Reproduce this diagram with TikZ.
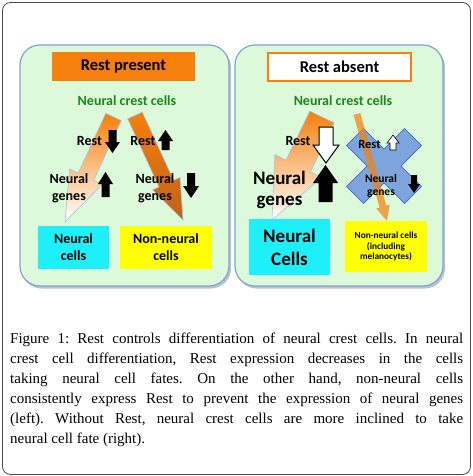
\documentclass[tikz,border=0pt]{standalone}
\usepackage{fontspec}
\setmainfont{Liberation Serif}
\newfontfamily\rotfont{Carlito}
\usepackage{xcolor}
\usepackage{tikz}
\usetikzlibrary{calc}
\usetikzlibrary{positioning}
\definecolor{laranja}{RGB}{247,127,12}
\definecolor{laranjaesc}{RGB}{192,98,22}
\definecolor{verdefundo}{RGB}{220,250,218}
\definecolor{bordapainel}{RGB}{128,163,214}
\definecolor{verdetexto}{RGB}{28,135,28}
\definecolor{ciano}{RGB}{30,240,250}
\definecolor{amarelo}{RGB}{255,255,0}
\definecolor{azulx}{RGB}{125,165,220}
\definecolor{bordax}{RGB}{45,85,215}
\definecolor{brilho}{RGB}{160,195,230}
\definecolor{sombra}{RGB}{185,195,205}
\tikzset{
  painel/.style={draw=bordapainel, line width=1.2pt, fill=verdefundo, rounded corners=20pt},
  sombrapainel/.style={fill=sombra, rounded corners=20pt},
  caixa/.style={inner sep=0pt, align=center, minimum width=#1, font=\rotfont\bfseries\fontsize{14}{17}\selectfont},
  caixa/.default=71pt,
  rotulo/.style={inner sep=0pt, align=center, font=\rotfont\bfseries\fontsize{14}{17}\selectfont},
  setagorda/.style={draw=brilho, line width=0.6pt},
  setapreta/.style={fill=black},
}
% block arrow: tail, tip, half shaft, half head, head length, style
\newcommand{\blocoseta}[6]{%
  \coordinate (bs-h) at ($(#2)!#5!(#1)$);
  \path[#6] ($(#1)!#3!90:(#2)$) -- ($(bs-h)!#3!90:(#2)$) -- ($(bs-h)!#4!90:(#2)$)
    -- (#2) -- ($(bs-h)!#4!-90:(#2)$) -- ($(bs-h)!#3!-90:(#2)$) -- ($(#1)!#3!-90:(#2)$) -- cycle;
}

\begin{document}
\begin{tikzpicture}[x=1pt, y=-1pt]
  \useasboundingbox (0,0) rectangle (473,476);
  \draw[gray!60!black, line width=0.8pt, rounded corners=8pt] (2.5,2.5) rectangle (470.5,474.5);

  % left panel: Rest present
  \fill[sombrapainel] (21.5,47) rectangle (231,288.5);
  \draw[painel] (20,45) rectangle (229,286);
  \node[caixa=143pt, fill=laranja, minimum height=29pt, font=\rotfont\bfseries\fontsize{16.5}{18}\selectfont] (tp) at (123.5,66.5) {Rest present};
  \node[rotulo, text=verdetexto] (ncp) at (127,101) {Neural crest cells};
  \coordinate (pa1) at (113.5,117);
  \coordinate (pb1) at (65,222);
  \coordinate (pa2) at (135,115.5);
  \coordinate (pb2) at (183,220);
  \blocoseta{pa1}{pb1}{8.5pt}{18pt}{50pt}{setagorda, top color=laranja, bottom color=white}
  \blocoseta{pa2}{pb2}{8pt}{15pt}{40pt}{setagorda, top color=laranja, bottom color=laranjaesc}
  \node[rotulo] (rp1) at (89.5,141) {Rest};
  \node[rotulo] (rp2) at (143,141) {Rest};
  \node[rotulo] (gp1) at (69,188) {Neural\\genes};
  \node[rotulo] (gp2) at (155,188) {Neural\\genes};
  \coordinate (sa1) at (112.5,130); \coordinate (sb1) at (112.5,153);
  \coordinate (sa2) at (165.5,150); \coordinate (sb2) at (165.5,130);
  \coordinate (sa3) at (105.5,197); \coordinate (sb3) at (105.5,172);
  \coordinate (sa4) at (191,173);   \coordinate (sb4) at (191,198);
  \blocoseta{sa1}{sb1}{4pt}{7.5pt}{11pt}{setapreta}
  \blocoseta{sa2}{sb2}{4pt}{7.5pt}{11pt}{setapreta}
  \blocoseta{sa3}{sb3}{4pt}{7.5pt}{12pt}{setapreta}
  \blocoseta{sa4}{sb4}{4pt}{8pt}{12pt}{setapreta}
  \node[caixa, fill=ciano, minimum height=43pt] (cp1) at (73.5,247.5) {Neural\\cells};
  \node[caixa=92pt, fill=amarelo, minimum height=43pt] (cp2) at (166,247.5) {Non-neural\\cells};

  % right panel: Rest absent
  \fill[sombrapainel] (236.5,47) rectangle (445,288.5);
  \draw[painel] (235,45) rectangle (443,286);
  \node[caixa=143pt, draw=laranja, line width=2pt, fill=white, minimum height=28pt, font=\rotfont\bfseries\fontsize{16.5}{18}\selectfont] (ta) at (339.5,67) {Rest absent};
  \node[rotulo, text=verdetexto] (nca) at (343,101) {Neural crest cells};
  \coordinate (qa1) at (322,117);
  \coordinate (qb1) at (272,220);
  \blocoseta{qa1}{qb1}{13.5pt}{26pt}{60pt}{setagorda, top color=laranja, bottom color=white}
  % blue cross
  \draw[bordax, line width=0.6pt, fill=azulx] (384,166) ++(0,-17) -- ++(20.5,-20.5) -- ++(17,17) -- ++(-20.5,20.5)
    -- ++(20.5,20.5) -- ++(-17,17) -- ++(-20.5,-20.5) -- ++(-20.5,20.5) -- ++(-17,-17) -- ++(20.5,-20.5)
    -- ++(-20.5,-20.5) -- ++(17,-17) -- cycle;
  \coordinate (qa2) at (357,114);
  \coordinate (qb2) at (387,221);
  \blocoseta{qa2}{qb2}{3.5pt}{7pt}{15pt}{fill=laranja, fill opacity=0.7}
  \node[rotulo] (ra1) at (298,141) {Rest};
  \node[rotulo, font=\rotfont\bfseries\fontsize{19}{21}\selectfont] (ga1) at (279.5,190) {Neural\\genes};
  \node[rotulo, font=\rotfont\bfseries\fontsize{12.5}{14}\selectfont] (ra2) at (369.5,144) {Rest};
  \node[rotulo, font=\rotfont\bfseries\fontsize{11.5}{12.5}\selectfont] (ga2) at (381,186) {Neural\\genes};
  \coordinate (ta1) at (326,127);   \coordinate (tb1) at (326,163);
  \coordinate (ta2) at (325.5,202); \coordinate (tb2) at (325.5,165);
  \coordinate (ta3) at (393,150);   \coordinate (tb3) at (393,135);
  \coordinate (ta4) at (414,175);   \coordinate (tb4) at (414,193);
  \blocoseta{ta1}{tb1}{7pt}{13pt}{18pt}{fill=white, draw=black, line width=1pt}
  \blocoseta{ta2}{tb2}{7pt}{12.5pt}{18pt}{setapreta}
  \blocoseta{ta3}{tb3}{3pt}{6pt}{8pt}{fill=white, draw=black, line width=0.6pt}
  \blocoseta{ta4}{tb4}{3pt}{6pt}{9pt}{setapreta}
  \node[caixa=81pt, fill=ciano, minimum height=56pt, font=\rotfont\bfseries\fontsize{19}{23}\selectfont] (ca1) at (289.5,247) {Neural\\Cells};
  \node[caixa=82pt, fill=amarelo, minimum height=51pt, font=\rotfont\bfseries\fontsize{9.3}{10.5}\selectfont] (ca2) at (386,246.5) {Non-neural cells\\(including\\melanocytes)};

  % caption
  \node[anchor=base west, text width=453pt, align=justify, inner sep=0pt, font=\fontsize{15}{20}\selectfont] (leg) at (10,343)
    {\frenchspacing\hyphenpenalty=10000\exhyphenpenalty=10000 Figure 1: Rest controls differentiation of neural crest cells. In neural\linebreak
     crest cell differentiation, Rest expression decreases in the cells\linebreak
     taking neural cell fates. On the other hand, non-neural cells\linebreak
     consistently express Rest to prevent the expression of neural genes\linebreak
     (left). Without Rest, neural crest cells are more inclined to take\linebreak
     neural cell fate (right).};
\end{tikzpicture}
\end{document}
